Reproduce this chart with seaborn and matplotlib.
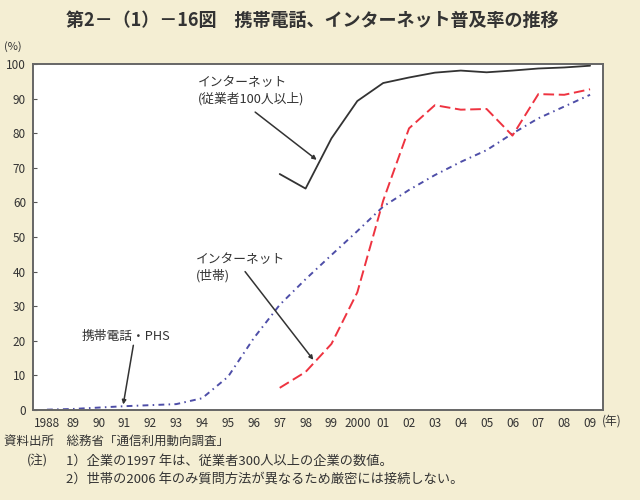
import matplotlib
matplotlib.use("Agg")
import matplotlib.pyplot as plt
import seaborn as sns
import pandas as pd

sns.set_theme(style="white")
plt.rcParams['font.family'] = ['Noto Sans CJK JP', 'DejaVu Sans']

# ---- data ----
years_all = list(range(1988, 2010))
mobile_phs = [0.1, 0.3, 0.7, 1.1, 1.4, 1.7, 3.4, 9.6, 20.8, 30.4, 37.8, 44.8,
              51.7, 58.8, 63.6, 67.9, 71.7, 75.1, 79.9, 84.3, 87.7, 91.1]
years_net = list(range(1997, 2010))
internet_company = [68.2, 64.0, 78.5, 89.3, 94.5, 96.1, 97.5, 98.1, 97.6, 98.1, 98.7, 99.0, 99.5]
internet_household = [6.4, 11.0, 19.1, 34.0, 60.5, 81.4, 88.1, 86.8, 87.0, 79.3, 91.3, 91.1, 92.7]
xtick_labels = ['1988', '89', '90', '91', '92', '93', '94', '95', '96', '97', '98', '99',
                '2000', '01', '02', '03', '04', '05', '06', '07', '08', '09']
ytick_values = list(range(0, 101, 10))

df_mobile = pd.DataFrame({'year': years_all, 'value': mobile_phs})
df_comp = pd.DataFrame({'year': years_net, 'value': internet_company})
df_house = pd.DataFrame({'year': years_net, 'value': internet_household})

BG = '#F4EED3'
TXT = '#333333'

fig = plt.figure(figsize=(6.4, 5.0), dpi=100, facecolor=BG)
ax = fig.add_axes([33/640, 1-410/500, (603-33)/640, (410-64)/500])
ax.set_facecolor('white')

sns.lineplot(data=df_mobile, x='year', y='value', ax=ax, color='#4E4EA8',
             linewidth=1.4, linestyle=(0, (3.0, 2.2, 0.8, 2.2)))
sns.lineplot(data=df_house, x='year', y='value', ax=ax, color='#EE3340',
             linewidth=1.4, linestyle=(0, (5.5, 2.4)))
sns.lineplot(data=df_comp, x='year', y='value', ax=ax, color='#333333',
             linewidth=1.3)

ax.set_xlim(1987.46, 2009.5)
ax.set_ylim(0, 100)
ax.set_xticks(years_all)
ax.set_xticklabels(xtick_labels)
ax.set_yticks(ytick_values)
ax.set_xlabel('')
ax.set_ylabel('')
ax.tick_params(axis='x', length=0, pad=5, labelsize=8.5, labelcolor=TXT)
ax.tick_params(axis='y', direction='in', length=3, width=0.8, color='#555555',
               pad=5, labelsize=8.5, labelcolor=TXT, left=True)
for s in ax.spines.values():
    s.set_color('#666666')
    s.set_linewidth(1.4)

# annotations
ANN_FS = 9.2
arrow_kw = dict(arrowstyle='-|>', color='#333333', lw=1.1, mutation_scale=6,
                shrinkA=0, shrinkB=0)
ax.text(1993.85, 96.6, 'インターネット\n(従業者100人以上)', fontsize=ANN_FS, color=TXT,
        va='top', ha='left', linespacing=1.3)
ax.annotate('', xy=(1998.43, 72.3), xytext=(1996.05, 86.1), arrowprops=arrow_kw)

ax.text(1993.75, 45.3, 'インターネット\n(世帯)', fontsize=ANN_FS, color=TXT,
        va='top', ha='left', linespacing=1.3)
ax.annotate('', xy=(1998.30, 14.5), xytext=(1995.66, 40.0), arrowprops=arrow_kw)

ax.text(1989.35, 21.2, '携帯電話・PHS', fontsize=ANN_FS, color=TXT, va='center', ha='left')
ax.annotate('', xy=(1990.95, 1.6), xytext=(1991.34, 18.7), arrowprops=arrow_kw)

# title and other texts
fig.text(312/640, 1-20/500, '第2－（1）－16図　携帯電話、インターネット普及率の推移',
         ha='center', va='center', fontsize=13, fontweight='bold', color=TXT)
fig.text(4/640, 1-47/500, '(%)', ha='left', va='center', fontsize=8, color=TXT)
fig.text(612/640, 1-421/500, '(年)', ha='center', va='center', fontsize=8.5, color=TXT)
FN = 9
fig.text(4/640, 1-441/500, '資料出所　総務省「通信利用動向調査」', ha='left', va='center',
         fontsize=FN, color=TXT)
fig.text(27/640, 1-461/500, '(注)', ha='left', va='center', fontsize=FN, color=TXT)
fig.text(66/640, 1-461/500, '1）企業の1997 年は、従業者300人以上の企業の数値。',
         ha='left', va='center', fontsize=9.5, color=TXT)
fig.text(66/640, 1-479/500, '2）世帯の2006 年のみ質問方法が異なるため厳密には接続しない。',
         ha='left', va='center', fontsize=9.5, color=TXT)

fig.savefig('out.png', dpi=100, facecolor=BG)
